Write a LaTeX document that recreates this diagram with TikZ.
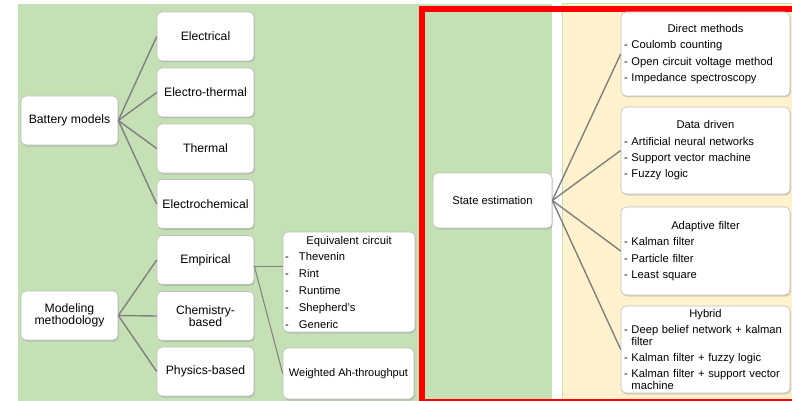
\documentclass[tikz,border=0pt]{standalone}
\usepackage{fontspec}
\setmainfont{Liberation Sans}
\usetikzlibrary{shadows}
\definecolor{bggreen}{RGB}{197,224,180}
\definecolor{bgyellow}{RGB}{255,242,204}
\definecolor{linkgray}{RGB}{128,128,128}
\definecolor{boxedge}{RGB}{190,190,190}
\newcommand{\dashitem}[1]{\makebox[14pt][l]{-}#1}
\newcommand{\boxtitle}[1]{\makebox[\hsize]{#1}}

\begin{document}
\begin{tikzpicture}[x=1pt,y=-1pt,
	box/.style={draw=boxedge, line width=0.6pt, fill=white, rounded corners=5pt, inner sep=0pt,
		drop shadow={shadow xshift=1pt, shadow yshift=-1.5pt, opacity=0.3}},
	bigbox/.style={box, minimum width=97pt, minimum height=49pt, align=center, font=\fontsize{12.2}{12}\selectfont},
	listbox/.style={box, text width=163pt, inner xsep=3pt, align=left, font=\fontsize{11.2}{11.8}\selectfont},
	link/.style={draw=linkgray, line width=1.4pt}]
	\clip (0,0) rectangle (792,401);
	\fill[bggreen] (18,4) rectangle (552,401);
	\filldraw[fill=bgyellow, draw=bggreen, line width=0.8pt] (562,3.5) rectangle (800,410);
	\draw[red, line width=6pt] (421.5,9) rectangle (805,401.5);

	% battery models
	\node[bigbox] (batt) at (69.5,120.5) {Battery models};
	\node[bigbox] (elec) at (205.5,36.5) {Electrical};
	\node[bigbox] (etherm) at (205.5,92.5) {Electro-thermal};
	\node[bigbox] (therm) at (205.5,148.5) {Thermal};
	\node[bigbox] (echem) at (205.5,204) {Electrochemical};
	\draw[link] (batt.east) -- (elec.west);
	\draw[link] (batt.east) -- (etherm.west);
	\draw[link] (batt.east) -- (therm.west);
	\draw[link] (batt.east) -- (echem.west);

	% modeling methodology
	\node[bigbox] (model) at (69.5,315.5) {Modeling\\methodology};
	\node[bigbox] (emp) at (205.5,260) {Empirical};
	\node[bigbox] (chem) at (205.5,316) {Chemistry-\\based};
	\node[bigbox] (phys) at (205.5,371.5) {Physics-based};
	\draw[link] (model.east) -- (emp.west);
	\draw[link] (model.east) -- (chem.west);
	\draw[link] (model.east) -- (phys.west);

	\node[box, text width=128pt, inner xsep=2pt, minimum height=100pt, align=left,
		font=\fontsize{11.2}{16.8}\selectfont] (eqc) at (349,282)
		{\boxtitle{Equivalent circuit}\\ \dashitem{Thevenin}\\ \dashitem{Rint}\\ \dashitem{Runtime}\\
		\dashitem{Shepherd’s}\\ \dashitem{Generic}};
	\node[box, minimum width=131pt, minimum height=51pt, font=\fontsize{11}{12}\selectfont] (wah) at (348.5,373.5) {Weighted Ah-throughput};
	\coordinate (empout) at ([yshift=-6pt]emp.east);
	\draw[link, line width=1pt] (empout) -- (empout -| eqc.west);
	\draw[link, line width=1pt] (empout) -- (wah.west);

	% state estimation
	\node[box, minimum width=119pt, minimum height=55pt, font=\fontsize{11.2}{12}\selectfont] (state) at (492.5,200.5) {State estimation};
	\node[listbox, minimum height=84pt] (direct) at (705.5,54)
		{\boxtitle{Direct methods}\\[4.5pt] - Coulomb counting\\[4.5pt] - Open circuit voltage method\\[4.5pt] - Impedance spectroscopy};
	\node[listbox, minimum height=87pt] (data) at (705.5,150.5)
		{\boxtitle{Data driven}\\[4.5pt] - Artificial neural networks\\[4.5pt] - Support vector machine\\[4.5pt] - Fuzzy logic};
	\node[listbox, minimum height=88pt] (adapt) at (705.5,251)
		{\boxtitle{Adaptive filter}\\[4.5pt] - Kalman filter\\[4.5pt] - Particle filter\\[4.5pt] - Least square};
	\node[listbox, minimum height=87pt] (hybrid) at (705.5,349.5)
		{\boxtitle{Hybrid}\\[4.5pt] - Deep belief network + kalman\\ \phantom{- }filter\\[4.5pt]
		- Kalman filter + fuzzy logic\\[4.5pt] - Kalman filter + support vector\\ \phantom{- }machine};
	\draw[link] (state.east) -- (direct.west);
	\draw[link] (state.east) -- (data.west);
	\draw[link] (state.east) -- (adapt.west);
	\draw[link] (state.east) -- (hybrid.west);
\end{tikzpicture}
\end{document}
